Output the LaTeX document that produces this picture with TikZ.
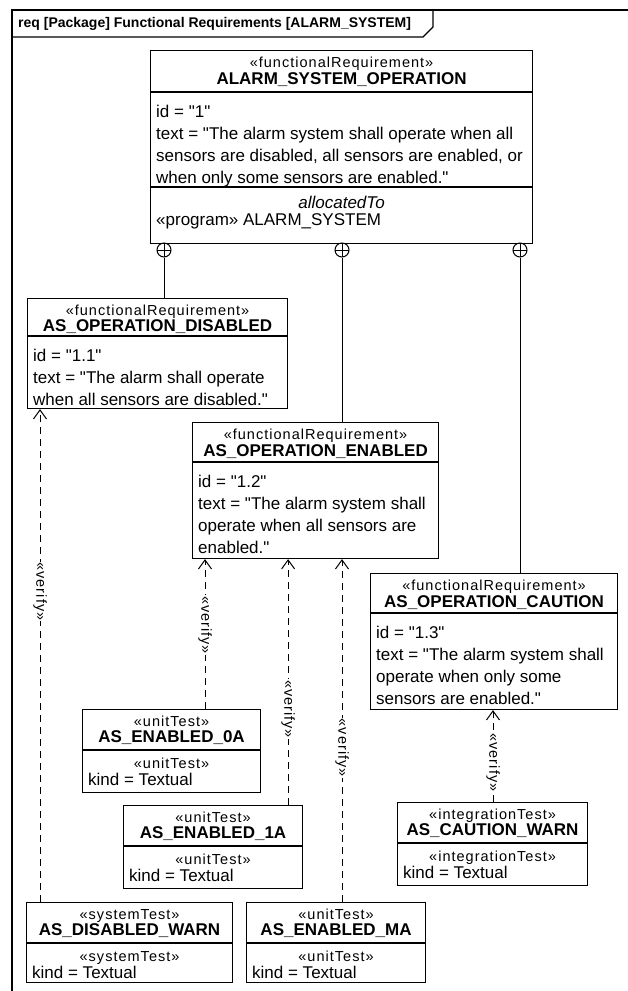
\documentclass[tikz,border=0pt]{standalone}
\usepackage{fontspec}
\setmainfont{Liberation Sans}
\newfontfamily\stfont[LetterSpace=7]{Liberation Sans}
\newcommand{\qt}{\textquotedbl}
\usetikzlibrary{positioning,arrows.meta}

\begin{document}
\begin{tikzpicture}[x=1pt,y=1pt,
    box/.style={draw,line width=1.1pt,anchor=north west,inner sep=0pt},
    stereo/.style={font=\stfont\fontsize{14.5}{17}\selectfont,inner sep=0pt,text height=10.5pt,text depth=3pt},
    title/.style={font=\fontsize{17}{19}\selectfont\bfseries,inner sep=0pt,text height=12.2pt,text depth=0pt},
    body/.style={font=\fontsize{17}{22}\selectfont,align=left,inner sep=0pt},
    contain/.style={circle,draw,line width=1pt,minimum size=14pt,inner sep=0pt,
      path picture={\draw (path picture bounding box.north) -- (path picture bounding box.south)
        (path picture bounding box.west) -- (path picture bounding box.east);}},
    owner/.style={line width=1pt},
    verify/.style={line width=1pt,dash pattern=on 7pt off 5pt,-{Straight Barb[length=9pt,width=13pt]}},
    vlabel/.style={font=\stfont\fontsize{14.5}{17}\selectfont,fill=white,inner sep=1pt,rotate=-90}]
  \fill[white] (0,0) rectangle (628,-991);
  \useasboundingbox (0,0) rectangle (628,-991);

  % frame
  \draw[line width=1.1pt] (12,-991) -- (12,-10) -- (628,-10);
  \draw[line width=1.1pt] (12,-37) -- (423,-37) -- (433,-27) -- (433,-10);
  \node[font=\fontsize{14}{16}\selectfont\bfseries,anchor=west,inner sep=0pt] (frame) at (18,-23.5)
    {req [Package] Functional Requirements [ALARM\_SYSTEM]};

  % requirements
  \node[box,minimum width=382pt,minimum height=193pt] (main) at (150,-50) {};
  \draw[line width=1.1pt] ([yshift=-42pt]main.north west) -- ([yshift=-42pt]main.north east);
  \draw[line width=1.1pt] ([yshift=-137pt]main.north west) -- ([yshift=-137pt]main.north east);
  \node[stereo,below=7pt of main.north] (main-st) {«functionalRequirement»};
  \node[title,below=22pt of main.north] (main-nm) {ALARM\_SYSTEM\_OPERATION};
  \node[body,anchor=north west,below right=54.5pt and 6pt of main.north west] (main-bd)
    {id = \qt1\qt\\text = \qt The alarm system shall operate when all\\sensors are disabled, all sensors are enabled, or\\when only some sensors are enabled.\qt};
  \node[body,below=146pt of main.north] (main-al) {\itshape allocatedTo};
  \node[body,anchor=north west,below right=163pt and 6pt of main.north west] (main-pg) {«program» ALARM\_SYSTEM};

  \node[box,minimum width=260pt,minimum height=110pt] (dis) at (27,-298) {};
  \draw[line width=1.1pt] ([yshift=-38pt]dis.north west) -- ([yshift=-38pt]dis.north east);
  \node[stereo,below=7pt of dis.north] (dis-st) {«functionalRequirement»};
  \node[title,below=21pt of dis.north] (dis-nm) {AS\_OPERATION\_DISABLED};
  \node[body,anchor=north west,below right=50.5pt and 6pt of dis.north west] (dis-bd)
    {id = \qt1.1\qt\\text = \qt The alarm shall operate\\when all sensors are disabled.\qt};

  \node[box,minimum width=246pt,minimum height=136pt] (ena) at (192,-422) {};
  \draw[line width=1.1pt] ([yshift=-40pt]ena.north west) -- ([yshift=-40pt]ena.north east);
  \node[stereo,below=7pt of ena.north] (ena-st) {«functionalRequirement»};
  \node[title,below=22pt of ena.north] (ena-nm) {AS\_OPERATION\_ENABLED};
  \node[body,anchor=north west,below right=52.5pt and 6pt of ena.north west] (ena-bd)
    {id = \qt1.2\qt\\text = \qt The alarm system shall\\operate when all sensors are\\enabled.\qt};

  \node[box,minimum width=247pt,minimum height=136pt] (cau) at (370,-573) {};
  \draw[line width=1.1pt] ([yshift=-40pt]cau.north west) -- ([yshift=-40pt]cau.north east);
  \node[stereo,below=7pt of cau.north] (cau-st) {«functionalRequirement»};
  \node[title,below=22pt of cau.north] (cau-nm) {AS\_OPERATION\_CAUTION};
  \node[body,anchor=north west,below right=52.5pt and 6pt of cau.north west] (cau-bd)
    {id = \qt1.3\qt\\text = \qt The alarm system shall\\operate when only some\\sensors are enabled.\qt};

  % tests
  \node[box,minimum width=178pt,minimum height=83pt] (t0a) at (82,-709) {};
  \node[box,minimum width=179pt,minimum height=83pt] (t1a) at (123,-805) {};
  \node[box,minimum width=190pt,minimum height=83pt] (tcw) at (397,-802) {};
  \node[box,minimum width=206pt,minimum height=80pt] (tdw) at (26,-902) {};
  \node[box,minimum width=179pt,minimum height=80pt] (tma) at (246,-902) {};
  \foreach \t/\s/\n in {t0a/unitTest/AS\_ENABLED\_0A, t1a/unitTest/AS\_ENABLED\_1A,
      tcw/integrationTest/AS\_CAUTION\_WARN, tdw/systemTest/AS\_DISABLED\_WARN,
      tma/unitTest/AS\_ENABLED\_MA} {
    \draw[line width=1.1pt] ([yshift=-41pt]\t.north west) -- ([yshift=-41pt]\t.north east);
    \node[stereo,below=7pt of \t.north] (\t-st) {«\s»};
    \node[title,below=21pt of \t.north] (\t-nm) {\n};
    \node[stereo,below=49pt of \t.north] (\t-ks) {«\s»};
    \node[body,anchor=north west,below right=64pt and 6pt of \t.north west] (\t-kd) {kind = Textual};
  }

  % containment
  \node[contain] (c1) at (164,-250) {};
  \node[contain] (c2) at (342,-250) {};
  \node[contain] (c3) at (520,-250) {};
  \draw[owner] (c1) -- (c1 |- dis.north);
  \draw[owner] (c2) -- (c2 |- ena.north);
  \draw[owner] (c3) -- (c3 |- cau.north);

  % verify
  \draw[verify] ([xshift=14pt]tdw.north west) -- ([xshift=14pt]tdw.north west |- dis.south)
    node[vlabel,pos=0.63] {«verify»};
  \draw[verify] ([xshift=123pt]t0a.north west) -- ([xshift=123pt]t0a.north west |- ena.south)
    node[vlabel,pos=0.56] {«verify»};
  \draw[verify] ([xshift=-15pt]t1a.north east) -- ([xshift=-15pt]t1a.north east |- ena.south)
    node[vlabel,pos=0.39] {«verify»};
  \draw[verify] ([xshift=96pt]tma.north west) -- ([xshift=96pt]tma.north west |- ena.south)
    node[vlabel,pos=0.45] {«verify»};
  \draw[verify] ([xshift=96pt]tcw.north west) -- ([xshift=96pt]tcw.north west |- cau.south)
    node[vlabel,pos=0.43] {«verify»};
\end{tikzpicture}
\end{document}
